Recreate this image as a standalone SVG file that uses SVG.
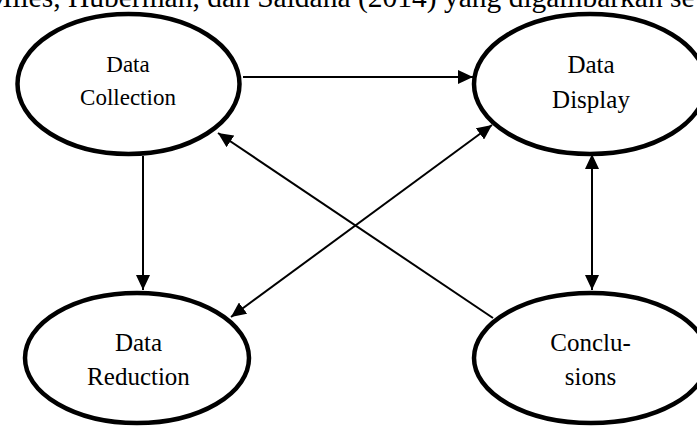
<svg xmlns="http://www.w3.org/2000/svg" width="697" height="427" viewBox="0 0 697 427">
<style>
.node{fill:#fff;stroke:#000;stroke-width:4.5}
.lbl{font-family:"Liberation Serif","Times New Roman",serif;font-size:25px;fill:#000;text-anchor:middle}
.cap{font-family:"Liberation Serif","Times New Roman",serif;font-size:29.5px;fill:#000}
.edge{stroke:#000;stroke-width:2;fill:none}
</style>
<defs>
<marker id="ah" markerUnits="userSpaceOnUse" markerWidth="16" markerHeight="14" refX="15" refY="7" orient="auto-start-reverse">
<path d="M0,0 L15,7 L0,14 z" fill="#000"/>
</marker>
</defs>
<rect width="697" height="427" fill="#fff"/>
<text class="cap" x="-14" y="7">Miles, Huberman, dan Saldana (2014) yang digambarkan se</text>
<g id="connectors">
<line class="edge" x1="243" y1="77" x2="473" y2="77" marker-end="url(#ah)"/>
<line class="edge" x1="143" y1="156" x2="143" y2="290" marker-end="url(#ah)"/>
<line class="edge" x1="493" y1="318" x2="218" y2="133" marker-end="url(#ah)"/>
<line class="edge" x1="492" y1="125" x2="231" y2="317" marker-start="url(#ah)" marker-end="url(#ah)"/>
<line class="edge" x1="592" y1="154" x2="592" y2="290" marker-start="url(#ah)" marker-end="url(#ah)"/>
</g>
<g id="collection">
<ellipse class="node" cx="128.5" cy="84" rx="111" ry="70"/>
<text class="lbl" x="128" y="72" style="font-size:23px">Data</text>
<text class="lbl" x="128" y="105" style="font-size:23px">Collection</text>
</g>
<g id="display">
<ellipse class="node" cx="590" cy="84" rx="116" ry="70"/>
<text class="lbl" x="591" y="73">Data</text>
<text class="lbl" x="591" y="108">Display</text>
</g>
<g id="reduction">
<ellipse class="node" cx="137" cy="358" rx="112" ry="65"/>
<text class="lbl" x="138.5" y="351">Data</text>
<text class="lbl" x="138.5" y="385">Reduction</text>
</g>
<g id="conclusions">
<ellipse class="node" cx="591" cy="358" rx="117" ry="65"/>
<text class="lbl" x="590.5" y="351">Conclu-</text>
<text class="lbl" x="590.5" y="385">sions</text>
</g>
</svg>
